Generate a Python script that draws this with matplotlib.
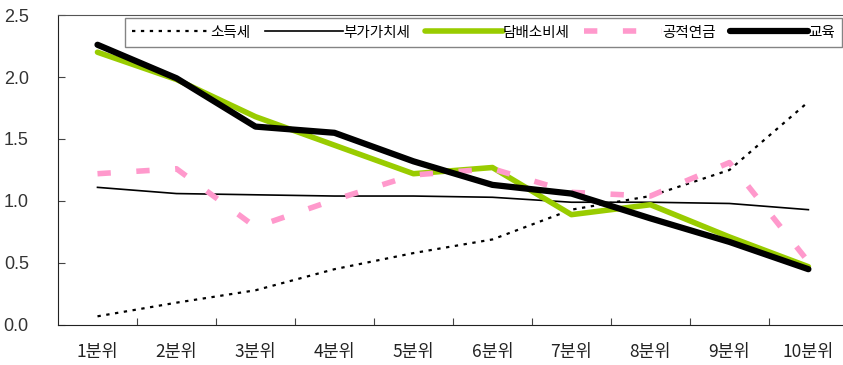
import matplotlib
matplotlib.use("Agg")
import matplotlib.pyplot as plt

plt.rcParams['font.family'] = ['Noto Sans CJK KR', 'DejaVu Sans']

# 분위별 지표
deciles = ['1분위', '2분위', '3분위', '4분위', '5분위',
           '6분위', '7분위', '8분위', '9분위', '10분위']
income_tax = [0.07, 0.18, 0.28, 0.45, 0.58, 0.69, 0.93, 1.04, 1.25, 1.80]
vat = [1.11, 1.06, 1.05, 1.04, 1.04, 1.03, 0.99, 0.99, 0.98, 0.93]
tobacco_tax = [2.20, 1.98, 1.68, 1.45, 1.22, 1.27, 0.89, 0.97, 0.71, 0.47]
pension = [1.22, 1.26, 0.79, 1.01, 1.21, 1.26, 1.07, 1.04, 1.31, 0.51]
education = [2.26, 1.99, 1.60, 1.55, 1.32, 1.13, 1.06, 0.86, 0.67, 0.45]

x = range(len(deciles))

fig = plt.figure(figsize=(8.43, 3.65), dpi=100)
ax = fig.add_axes([0.0688, 0.1096, 0.937, 0.8493])

ax.plot(x, income_tax, color='black', lw=1.6, dashes=(1.5, 2.5), label='소득세')
ax.plot(x, vat, color='black', lw=1.2, label='부가가치세')
ax.plot(x, tobacco_tax, color='#99CC00', lw=4, solid_capstyle='round', label='담배소비세')
ax.plot(x, pension, color='#FF99CC', lw=4, dashes=(2.4, 4.6), label='공적연금')
ax.plot(x, education, color='black', lw=4.5, solid_capstyle='round', label='교육')

ax.set_xlim(-0.5, 9.5)
ax.set_ylim(0, 2.5)
ax.set_yticks([0, 0.5, 1.0, 1.5, 2.0, 2.5])
ax.set_yticklabels(['0.0', '0.5', '1.0', '1.5', '2.0', '2.5'])
ax.set_xticks([i + 0.5 for i in range(9)])
ax.set_xticklabels([])
ax.set_xticks(list(x), minor=True)
ax.set_xticklabels(deciles, minor=True)
ax.tick_params(axis='x', which='major', direction='in', length=5, color='#444444')
ax.tick_params(axis='x', which='minor', length=0, pad=13, labelsize=12.5, labelcolor='#222222')
ax.tick_params(axis='y', direction='in', length=5, pad=21, labelsize=13,
               labelcolor='#333333', color='#444444')
for lbl in ax.get_yticklabels():
    lbl.set_family(['Liberation Sans', 'DejaVu Sans'])

ax.spines['right'].set_visible(False)
ax.spines['top'].set_color('#555555')
ax.spines['left'].set_color('#222222')
ax.spines['bottom'].set_color('#222222')

leg = ax.legend(loc='upper left', bbox_to_anchor=(0.081, 1.0), ncol=5,
                frameon=True, fancybox=False, edgecolor='#666666',
                fontsize=10.5, handlelength=5.35, handletextpad=0.0,
                columnspacing=1.0, borderpad=0.5, borderaxespad=0.22)
leg.get_frame().set_linewidth(1.0)

fig.savefig('out.png', dpi=100)
